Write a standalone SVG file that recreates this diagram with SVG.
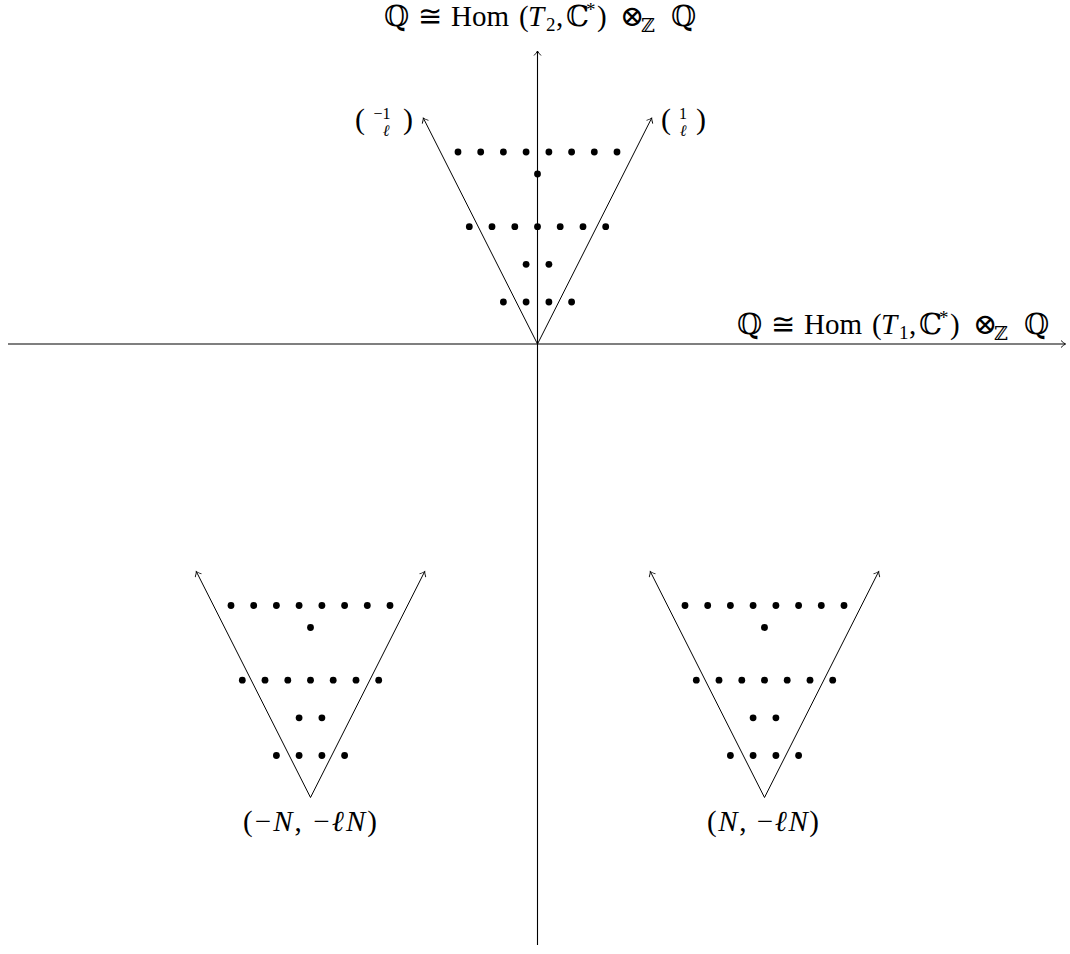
<svg xmlns="http://www.w3.org/2000/svg" xmlns:xlink="http://www.w3.org/1999/xlink" width="1070" height="954" viewBox="0 0 1070 954">
<style>
.ax{stroke:#000;stroke-width:1.1;fill:none}
.cn{stroke:#000;stroke-width:1;fill:none}
.t{font-family:"Liberation Serif","DejaVu Serif",serif;font-size:29px;fill:#000}
.i{font-style:italic}
.s{font-size:19px}
.m{font-size:16px}
.p{font-size:30px}
</style>
<defs>
<marker id="arr" markerWidth="10" markerHeight="10" refX="0" refY="0" viewBox="-6 -5 8 10" markerUnits="userSpaceOnUse" orient="auto" overflow="visible">
<path d="M-4.5 -3.5 Q-2 -1 0 0 Q-2 1 -4.5 3.5" fill="none" stroke="#000" stroke-width="0.9"/>
</marker>
<g id="dots" fill="#000">
<circle cx="-79.5" cy="-192" r="3.4"/><circle cx="-56.8" cy="-192" r="3.4"/><circle cx="-34.1" cy="-192" r="3.4"/><circle cx="-11.4" cy="-192" r="3.4"/><circle cx="11.4" cy="-192" r="3.4"/><circle cx="34.1" cy="-192" r="3.4"/><circle cx="56.8" cy="-192" r="3.4"/><circle cx="79.5" cy="-192" r="3.4"/>
<circle cx="0" cy="-170" r="3.4"/>
<circle cx="-68.2" cy="-117.3" r="3.4"/><circle cx="-45.5" cy="-117.3" r="3.4"/><circle cx="-22.7" cy="-117.3" r="3.4"/><circle cx="0" cy="-117.3" r="3.4"/><circle cx="22.7" cy="-117.3" r="3.4"/><circle cx="45.5" cy="-117.3" r="3.4"/><circle cx="68.2" cy="-117.3" r="3.4"/>
<circle cx="-11.4" cy="-79.7" r="3.4"/><circle cx="11.4" cy="-79.7" r="3.4"/>
<circle cx="-34.1" cy="-42" r="3.4"/><circle cx="-11.4" cy="-42" r="3.4"/><circle cx="11.4" cy="-42" r="3.4"/><circle cx="34.1" cy="-42" r="3.4"/>
</g>
<g id="cone">
<line class="cn" x1="0" y1="0" x2="-114.2" y2="-226" marker-end="url(#arr)"/>
<line class="cn" x1="0" y1="0" x2="114.2" y2="-226" marker-end="url(#arr)"/>
</g>
<g id="homlabel">
<text class="t" y="0"><tspan x="384">ℚ</tspan><tspan x="418">≅</tspan><tspan x="451">Hom</tspan><tspan x="519">(</tspan><tspan class="i" x="528">T</tspan></text>
<text class="t" y="0"><tspan x="566">ℂ</tspan><tspan x="597">)</tspan><tspan x="620">⊗</tspan><tspan x="671">ℚ</tspan></text>
<text class="t s" x="586" y="-10">*</text>
<text class="t s" x="641" y="6">ℤ</text>
<text class="t" x="556" y="0">,</text>
</g>
</defs>
<rect width="1070" height="954" fill="#fff"/>
<g id="connectors">
<line class="ax" x1="8" y1="344" x2="1065.5" y2="344" marker-end="url(#arr)"/>
<line class="ax" x1="537.5" y1="945" x2="537.5" y2="51" marker-end="url(#arr)"/>
</g>
<g id="axis-labels">
<g id="label-T2" transform="translate(0,26)">
<use xlink:href="#homlabel"/>
<text class="t s" x="546" y="5">2</text>
</g>
<g id="label-T1" transform="translate(353,334)">
<use xlink:href="#homlabel"/>
<text class="t s" x="546" y="5">1</text>
</g>
</g>
<g id="cone-top" transform="translate(537.5,344)">
<use xlink:href="#cone"/>
<use xlink:href="#dots"/>
</g>
<g id="label-minus1-l">
<text class="t p" x="355" y="129">(</text>
<text class="t m" x="382" y="119" text-anchor="middle">−1</text>
<text class="t m i" x="386" y="136" text-anchor="middle">ℓ</text>
<text class="t p" x="403" y="129">)</text>
</g>
<g id="label-1-l">
<text class="t p" x="661" y="129">(</text>
<text class="t m" x="683" y="119" text-anchor="middle">1</text>
<text class="t m i" x="683" y="136" text-anchor="middle">ℓ</text>
<text class="t p" x="696" y="129">)</text>
</g>
<g id="cone-left" transform="translate(310.5,797.5)">
<use xlink:href="#cone"/>
<use xlink:href="#dots"/>
</g>
<g id="cone-right" transform="translate(764.5,797.5)">
<use xlink:href="#cone"/>
<use xlink:href="#dots"/>
</g>
<g id="label-left">
<text class="t" x="243" y="831" textLength="134" lengthAdjust="spacing">(−<tspan class="i">N</tspan>, −<tspan class="i">ℓN</tspan>)</text>
</g>
<g id="label-right">
<text class="t" x="707" y="831" textLength="112" lengthAdjust="spacing">(<tspan class="i">N</tspan>, −<tspan class="i">ℓN</tspan>)</text>
</g>
</svg>
